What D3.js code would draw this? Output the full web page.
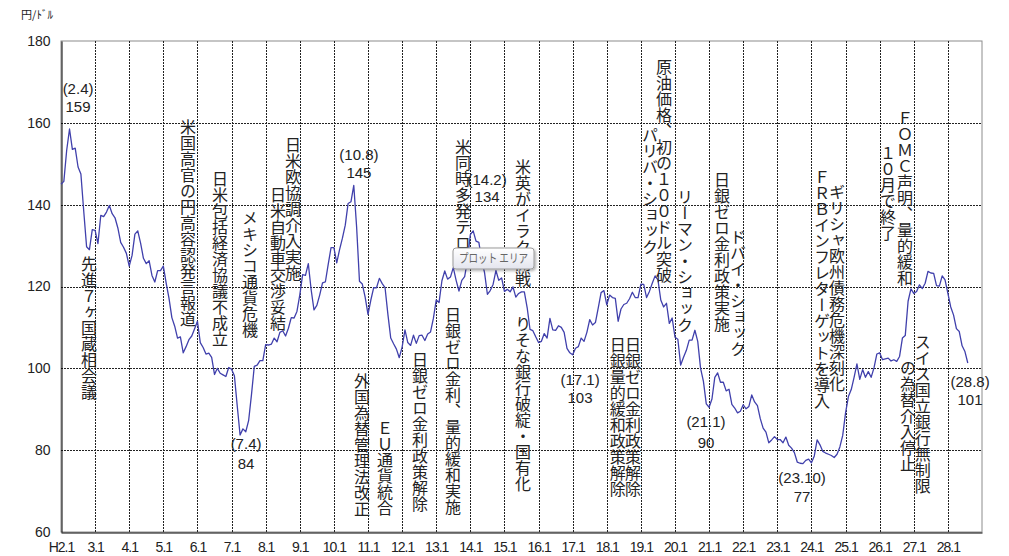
<!DOCTYPE html>
<html>
<head>
<meta charset="utf-8">
<script src="https://cdn.jsdelivr.net/npm/d3@7"></script>
<style>
  body { margin: 0; background: #fff; }
  svg text { font-family: "Liberation Sans", Arial, sans-serif; fill: #222; }
  .vtext {
    font-family: "Noto Sans CJK JP", sans-serif;
    font-size: 16px;
    writing-mode: vertical-rl;
  }
</style>
</head>
<body>
<div class="canvas"></div>
<script>
// monthly yen/dollar, H2.1 (1990.1) .. H28.8 (2016.8)
const rates = [
  145.0, 145.7, 153.3, 158.5, 153.5, 153.8, 149.2, 147.5, 138.4, 129.7, 129.0, 133.9, // H2
  133.7, 130.5, 137.4, 137.1, 138.2, 139.8, 137.8, 136.8, 134.3, 130.8, 129.6, 128.1, // H3
  125.0, 127.6, 132.8, 133.6, 130.6, 126.9, 125.6, 126.3, 122.7, 121.1, 123.9, 123.9, // H4
  125.0, 120.8, 117.1, 112.4, 110.3, 107.4, 107.7, 103.8, 105.3, 107.0, 107.9, 109.7, // H5
  111.5, 106.3, 105.1, 103.5, 103.7, 102.7, 98.5, 100.0, 98.8, 98.4, 98.0, 100.2,     // H6
  99.8, 98.2, 90.8, 83.7, 85.2, 84.5, 87.2, 93.5, 100.5, 100.8, 101.9, 101.9,          // H7
  105.8, 105.7, 105.9, 107.4, 106.5, 108.8, 109.2, 107.9, 109.8, 112.4, 112.3, 113.9, // H8
  117.9, 122.9, 122.7, 125.6, 119.2, 114.3, 115.4, 117.9, 120.9, 121.1, 125.4, 129.5, // H9
  129.5, 125.8, 129.0, 131.8, 135.0, 140.3, 140.7, 144.7, 134.5, 121.3, 120.6, 117.4, // H10
  113.2, 116.7, 119.7, 119.7, 122.0, 120.7, 119.7, 113.2, 107.4, 106.0, 104.7, 102.6, // H11
  105.2, 109.4, 106.3, 105.6, 108.1, 106.1, 108.0, 108.1, 106.8, 108.4, 108.9, 112.2, // H12
  116.7, 116.1, 121.4, 123.8, 121.8, 122.3, 124.6, 121.5, 118.9, 121.5, 122.4, 126.4, // H13
  132.7, 133.6, 131.1, 130.8, 126.4, 123.4, 118.1, 119.0, 120.5, 123.9, 121.5, 122.1, // H14
  118.8, 119.3, 118.7, 119.9, 117.4, 118.3, 118.7, 118.7, 114.8, 109.5, 109.2, 107.7, // H15
  106.3, 106.6, 108.5, 107.4, 112.2, 109.4, 109.3, 110.4, 110.0, 108.8, 104.9, 103.8, // H16
  103.3, 104.9, 105.3, 107.4, 106.6, 108.8, 111.9, 110.6, 111.2, 114.8, 118.5, 119.0, // H17
  115.5, 117.9, 117.3, 117.1, 111.5, 114.5, 115.6, 115.9, 117.0, 118.6, 117.3, 117.3, // H18
  120.6, 120.5, 117.3, 118.8, 120.8, 122.6, 121.6, 116.7, 115.0, 115.9, 111.0, 112.3, // H19
  107.6, 107.1, 100.8, 102.7, 104.4, 106.9, 106.9, 109.3, 106.6, 100.0, 96.8, 91.3,   // H20
  90.5, 92.5, 97.8, 98.9, 96.6, 96.6, 94.5, 94.9, 91.2, 90.3, 89.1, 89.5,             // H21
  91.1, 90.1, 90.7, 93.5, 91.8, 90.9, 87.7, 85.4, 84.4, 81.8, 82.5, 83.3,             // H22
  82.6, 82.6, 81.8, 83.2, 81.2, 80.5, 79.4, 77.1, 76.8, 76.7, 77.5, 77.8,             // H23
  76.9, 78.6, 82.5, 81.3, 79.7, 79.3, 79.0, 78.7, 78.2, 79.0, 80.8, 83.6,             // H24
  89.1, 93.1, 94.8, 97.8, 101.1, 97.3, 99.7, 97.8, 99.2, 97.8, 100.1, 103.5,          // H25
  103.8, 102.1, 102.3, 102.5, 101.8, 102.1, 101.7, 102.9, 107.4, 108.0, 116.4, 119.4, // H26
  118.3, 118.8, 120.4, 119.5, 120.8, 123.7, 123.3, 123.2, 120.2, 120.1, 122.6, 121.6, // H27
  118.3, 115.0, 113.0, 109.7, 109.0, 105.5, 104.1, 101.3                               // H28
];

const yTicks = [60, 80, 100, 120, 140, 160, 180];
const xTickLabels = [
  "H2.1", "3.1", "4.1", "5.1", "6.1", "7.1", "8.1", "9.1", "10.1",
  "11.1", "12.1", "13.1", "14.1", "15.1", "16.1", "17.1", "18.1", "19.1",
  "20.1", "21.1", "22.1", "23.1", "24.1", "25.1", "26.1", "27.1", "28.1"
];

// vertical event notes: month index of the column, value at the top of the column
const events = [
  { text: "先進７ヶ国蔵相会議", month: 9.85, top: 127.5 },
  { text: "米国高官の円高容認発言報道", month: 44.7, top: 160.9 },
  { text: "日米包括経済協議不成立", month: 55.9, top: 148.2 },
  { text: "メキシコ通貨危機", month: 66.5, top: 138.7 },
  { text: "日米欧協調介入実施", month: 81.6, top: 156.5 },
  { text: "日米自動車交渉妥結", month: 76.3, top: 144.3 },
  { text: "外国為替管理法改正", month: 105.9, top: 98.9 },
  { text: "ＥＵ通貨統合", month: 114.0, top: 87.4 },
  { text: "日銀ゼロ金利政策解除", month: 126.3, top: 104.0 },
  { text: "日銀ゼロ金利、量的緩和実施", month: 137.9, top: 115.0 },
  { text: "米同時多発テロ", month: 141.4, top: 156.0 },
  { text: "米英がイラク開戦", month: 162.5, top: 151.2 },
  { text: "りそな銀行破綻・国有化", month: 162.5, top: 112.8 },
  { text: "日銀量的緩和政策解除", month: 195.9, top: 107.7 },
  { text: "日銀ゼロ金利政策解除", month: 201.2, top: 107.7 },
  { text: "原油価格、初の１００ドル突破", month: 212.1, top: 175.6 },
  { text: "パリバ・ショック", month: 207.2, top: 159.0 },
  { text: "リーマン・ショック", month: 219.5, top: 143.8 },
  { text: "日銀ゼロ金利政策実施", month: 232.5, top: 148.0 },
  { text: "ドバイ・ショック", month: 238.2, top: 134.1 },
  { text: "ＦＲＢインフレターゲットを導入", month: 267.7, top: 148.7 },
  { text: "ギリシャ欧州債務危機深刻化", month: 273.0, top: 145.0 },
  { text: "ＦＯＭＣ声明、量的緩和", month: 296.9, top: 163.1 },
  { text: "１０月で終了", month: 290.9, top: 154.6 },
  { text: "スイス国立銀行無制限", month: 303.2, top: 108.4 },
  { text: "の為替介入停止", month: 298.0, top: 102.0 }
];

// peak / trough notes
const extremes = [
  { when: "(2.4)", value: "159", month: 6.0, whenAt: 168.4, valueAt: 163.9 },
  { when: "(7.4)", value: "84", month: 65.1, whenAt: 81.5, valueAt: 76.6 },
  { when: "(10.8)", value: "145", month: 104.8, whenAt: 152.1, valueAt: 147.8 },
  { when: "(14.2)", value: "134", month: 149.9, whenAt: 146.0, valueAt: 141.9 },
  { when: "(17.1)", value: "103", month: 182.6, whenAt: 97.1, valueAt: 92.7 },
  { when: "(21.1)", value: "90", month: 226.9, whenAt: 87.0, valueAt: 81.8 },
  { when: "(23.10)", value: "77", month: 260.7, whenAt: 73.2, valueAt: 68.6 },
  { when: "(28.8)", value: "101", month: 319.8, whenAt: 96.7, valueAt: 92.3 }
];

const width = 1009;
const height = 556;
const margin = { top: 41, right: 27, bottom: 24, left: 61 };

const svg = d3
  .select(".canvas")
  .append("svg")
  .attr("width", width)
  .attr("height", height);

const x = d3.scaleLinear().domain([0, 324]).range([margin.left, width - margin.right]);
const y = d3.scaleLinear().domain([60, 180]).range([height - margin.bottom, margin.top]);

// plot area border (top / right in grey)
svg
  .append("rect")
  .attr("x", x(0))
  .attr("y", y(180))
  .attr("width", x(324) - x(0))
  .attr("height", y(60) - y(180))
  .attr("fill", "none")
  .attr("stroke", "#8c8c8c")
  .attr("stroke-width", 1);

// dashed grid
svg
  .append("g")
  .selectAll("line")
  .data(xTickLabels.slice(1))
  .join("line")
  .attr("x1", (d, i) => Math.round(x((i + 1) * 12)) + 0.5)
  .attr("x2", (d, i) => Math.round(x((i + 1) * 12)) + 0.5)
  .attr("y1", y(180))
  .attr("y2", y(60))
  .attr("stroke", "#222")
  .attr("stroke-dasharray", "2,1");

svg
  .append("g")
  .selectAll("line")
  .data(yTicks.filter((d) => d > 60 && d < 180))
  .join("line")
  .attr("x1", x(0))
  .attr("x2", x(324))
  .attr("y1", (d) => Math.round(y(d)) + 0.5)
  .attr("y2", (d) => Math.round(y(d)) + 0.5)
  .attr("stroke", "#222")
  .attr("stroke-dasharray", "2,1");

// axes
const yAxis = svg
  .append("g")
  .attr("transform", `translate(${Math.round(x(0)) + 0.5},0)`)
  .call(d3.axisLeft(y).tickValues(yTicks).tickSize(0).tickPadding(11));
yAxis.select(".domain").attr("stroke", "#000");
yAxis.selectAll("text").attr("font-size", 14).attr("font-family", "Liberation Sans, Arial, sans-serif").attr("fill", "#222");

const xAxis = svg
  .append("g")
  .attr("transform", `translate(0,${Math.round(y(60)) + 0.5})`)
  .call(
    d3
      .axisBottom(x)
      .tickValues(xTickLabels.map((d, i) => i * 12))
      .tickFormat((d, i) => xTickLabels[i])
      .tickSize(0)
      .tickPadding(10)
  );
xAxis.select(".domain").attr("stroke", "#000");
xAxis
  .selectAll("text")
  .attr("font-size", 14)
  .attr("letter-spacing", "-1px")
  .attr("font-family", "Liberation Sans, Arial, sans-serif")
  .attr("fill", "#222");

// unit
svg
  .append("text")
  .attr("x", 21)
  .attr("y", 19)
  .attr("font-size", 11)
  .attr("textLength", 32)
  .attr("lengthAdjust", "spacingAndGlyphs")
  .style("font-family", "Noto Sans CJK JP, sans-serif")
  .text("円/ﾄﾞﾙ");

// rate line
const line = d3
  .line()
  .x((d, i) => x(i))
  .y((d) => y(d));

svg
  .append("path")
  .datum(rates)
  .attr("d", line)
  .attr("fill", "none")
  .attr("stroke", "#4040ac")
  .attr("stroke-width", 1.3)
  .attr("stroke-linejoin", "round");

// event notes, written top to bottom
svg
  .append("g")
  .selectAll("text")
  .data(events)
  .join("text")
  .attr("class", "vtext")
  .attr("x", (d) => x(d.month))
  .attr("y", (d) => y(d.top))
  .text((d) => d.text);

// extreme notes
const ext = svg.append("g").attr("text-anchor", "middle").attr("font-size", 15);
ext
  .selectAll("text.when")
  .data(extremes)
  .join("text")
  .attr("class", "when")
  .attr("x", (d) => x(d.month))
  .attr("y", (d) => y(d.whenAt))
  .attr("dy", "0.35em")
  .text((d) => d.when);
ext
  .selectAll("text.val")
  .data(extremes)
  .join("text")
  .attr("class", "val")
  .attr("x", (d) => x(d.month))
  .attr("y", (d) => y(d.valueAt))
  .attr("dy", "0.35em")
  .text((d) => d.value);

// the "plot area" hover tip that shows in the screenshot
const defs = svg.append("defs");
const grad = defs.append("linearGradient").attr("id", "tipFill").attr("x1", 0).attr("x2", 0).attr("y1", 0).attr("y2", 1);
grad.append("stop").attr("offset", 0).attr("stop-color", "#ffffff");
grad.append("stop").attr("offset", 1).attr("stop-color", "#e4e5ee");
const shadow = defs.append("filter").attr("id", "tipShadow").attr("x", "-20%").attr("y", "-30%").attr("width", "140%").attr("height", "180%");
shadow.append("feDropShadow").attr("dx", 1.5).attr("dy", 1.5).attr("stdDeviation", 1.2).attr("flood-color", "#000").attr("flood-opacity", 0.3);

const tip = svg.append("g").attr("transform", "translate(453,248)");
tip
  .append("rect")
  .attr("width", 81)
  .attr("height", 21)
  .attr("rx", 3)
  .attr("fill", "url(#tipFill)")
  .attr("stroke", "#9a9a9a")
  .attr("filter", "url(#tipShadow)");
tip
  .append("text")
  .attr("x", 6)
  .attr("y", 15)
  .attr("font-size", 12)
  .attr("textLength", 69)
  .attr("lengthAdjust", "spacingAndGlyphs")
  .style("font-family", "Noto Sans CJK JP, sans-serif")
  .style("fill", "#666")
  .text("プロット エリア");
</script>
</body>
</html>
